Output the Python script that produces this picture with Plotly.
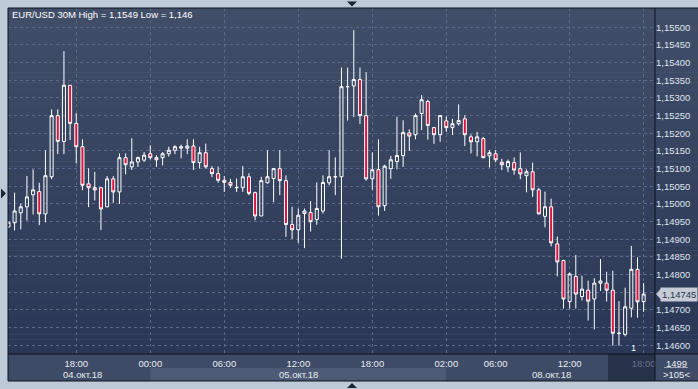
import plotly.graph_objects as go

# ---------------- data ----------------
bar_index = list(range(-11, 93))  # 30M bars; 0 = 04.окт 18:00

open_ = [1.14935,1.14947,1.14975,1.14992,1.15026,1.15035,1.14972,1.15077,1.15250,1.15177,
         1.15336,1.15228,1.15162,1.15057,1.15046,1.15046,1.14992,1.15071,1.15034,1.15131,
         1.15105,1.15119,1.15124,1.15142,1.15131,1.15131,1.15142,1.15152,1.15158,1.15158,
         1.15164,1.15117,1.15145,1.15100,1.15086,1.15067,1.15061,1.15047,1.15046,1.15077,
         1.15032,1.14966,1.15060,1.15072,1.15100,1.15066,1.14942,1.14927,1.14973,1.14976,
         1.14956,1.14980,1.15060,1.15077,1.15077,1.15332,1.15334,1.15352,1.15250,1.15071,
         1.15097,1.14995,1.15100,1.15120,1.15137,1.15201,1.15196,1.15256,1.15290,1.15216,
         1.15196,1.15235,1.15216,1.15227,1.15241,1.15190,1.15176,1.15185,1.15136,1.15142,
         1.15118,1.15105,1.15117,1.15100,1.15080,1.15091,1.15040,1.14965,1.14992,1.14887,
         1.14840,1.14724,1.14795,1.14738,1.14756,1.14731,1.14776,1.14776,1.14756,1.14634,
         1.14631,1.14705,1.14815,1.14724]
high = [1.14951,1.15032,1.15001,1.15079,1.15098,1.15060,1.15152,1.15268,1.15268,1.15433,
        1.15336,1.15257,1.15183,1.15101,1.15091,1.15048,1.15079,1.15079,1.15143,1.15143,
        1.15186,1.15134,1.15147,1.15166,1.15138,1.15147,1.15162,1.15166,1.15168,1.15183,
        1.15183,1.15162,1.15171,1.15107,1.15106,1.15079,1.15071,1.15072,1.15107,1.15087,
        1.15035,1.15077,1.15152,1.15102,1.15152,1.15081,1.14992,1.14987,1.14987,1.15008,
        1.15061,1.15081,1.15152,1.15132,1.15386,1.15386,1.15492,1.15386,1.15373,1.15146,
        1.15183,1.15111,1.15136,1.15247,1.15237,1.15211,1.15256,1.15308,1.15295,1.15218,
        1.15250,1.15248,1.15241,1.15282,1.15251,1.15197,1.15204,1.15190,1.15152,1.15152,
        1.15128,1.15126,1.15132,1.15146,1.15098,1.15117,1.15046,1.15035,1.15015,1.14908,
        1.14842,1.14806,1.14856,1.14797,1.14783,1.14790,1.14844,1.14808,1.14811,1.14725,
        1.14763,1.14881,1.14849,1.14776]
low = [1.14932,1.14925,1.14928,1.14953,1.14970,1.14940,1.14948,1.15070,1.15141,1.15141,
       1.15181,1.15115,1.15039,1.14991,1.15010,1.14926,1.14991,1.15003,1.15000,1.15084,
       1.15096,1.15105,1.15119,1.15126,1.15105,1.15109,1.15134,1.15141,1.15129,1.15141,
       1.15096,1.15100,1.15100,1.15076,1.15060,1.15034,1.15045,1.15034,1.15034,1.15025,
       1.14954,1.14966,1.15058,1.15005,1.15025,1.14907,1.14901,1.14890,1.14875,1.14922,
       1.14941,1.14973,1.15053,1.15025,1.14845,1.15236,1.15246,1.15226,1.15066,1.15040,
       1.14967,1.14980,1.15071,1.15098,1.15105,1.15150,1.15183,1.15209,1.15182,1.15170,
       1.15176,1.15204,1.15195,1.15222,1.15164,1.15143,1.15135,1.15129,1.15103,1.15118,
       1.15096,1.15090,1.15083,1.15070,1.15033,1.15020,1.14970,1.14934,1.14880,1.14795,
       1.14704,1.14704,1.14704,1.14727,1.14670,1.14645,1.14754,1.14724,1.14599,1.14599,
       1.14625,1.14679,1.14678,1.14695]
close = [1.14948,1.14980,1.14992,1.15020,1.15040,1.14972,1.15080,1.15250,1.15177,1.15336,
         1.15228,1.15162,1.15053,1.15046,1.15040,1.14986,1.15071,1.15034,1.15131,1.15111,
         1.15119,1.15131,1.15138,1.15131,1.15125,1.15142,1.15152,1.15162,1.15162,1.15164,
         1.15117,1.15145,1.15105,1.15086,1.15067,1.15061,1.15053,1.15046,1.15077,1.15030,
         1.14966,1.15066,1.15077,1.15100,1.15066,1.14942,1.14927,1.14968,1.14980,1.14950,
         1.14987,1.15061,1.15077,1.15077,1.15332,1.15332,1.15352,1.15250,1.15071,1.15097,
         1.14992,1.15107,1.15125,1.15137,1.15202,1.15192,1.15250,1.15295,1.15222,1.15196,
         1.15250,1.15216,1.15227,1.15236,1.15196,1.15176,1.15190,1.15131,1.15145,1.15125,
         1.15111,1.15120,1.15096,1.15085,1.15091,1.15040,1.14972,1.14992,1.14890,1.14836,
         1.14731,1.14802,1.14745,1.14759,1.14725,1.14776,1.14782,1.14756,1.14634,1.14634,
         1.14709,1.14815,1.14723,1.14745]

time_tick_idx = [0, 12, 24, 36, 48, 60, 68, 80, 92]
time_tick_text = ["18:00", "00:00", "06:00", "12:00", "18:00", "02:00", "06:00", "12:00", "18:00"]
day_label_idx = [1, 36, 77]
day_labels = ["04.окт.18", "05.окт.18", "08.окт.18"]
day_start_idx = [12, 60]          # boundaries of the 05.окт band
price_ticks = [1.14600, 1.14650, 1.14700, 1.14750, 1.14800, 1.14850, 1.14900, 1.14950,
               1.15000, 1.15050, 1.15100, 1.15150, 1.15200, 1.15250, 1.15300, 1.15350,
               1.15400, 1.15450, 1.15500]
price_tick_text = ["1,14600", "1,14650", "1,14700", "", "1,14800", "1,14850", "1,14900",
                   "1,14950", "1,15000", "1,15050", "1,15100", "1,15150", "1,15200",
                   "1,15250", "1,15300", "1,15350", "1,15400", "1,15450", "1,15500"]
title_text = "EUR/USD 30M High = 1,1549 Low = 1,146"
last_price_text = "1,14745"
bars_text = "1499"
zoom_text = "&gt;105&lt;"

# ---------------- geometry helpers (pixels -> paper) ----------------
W, H = 698, 389
L, R, T, B = 8, 655, 8, 354


def px(x):
    return (x - L) / (R - L)


def py(y):
    return (B - y) / (B - T)


x_range = [-11.07, 93.84]
y_range = [1.145754, 1.155546]


def ix(i):  # bar index -> pixel
    return L + (i - x_range[0]) / (x_range[1] - x_range[0]) * (R - L)


FONT = "Liberation Sans, Arial, sans-serif"

fig = go.Figure()
fig.add_trace(go.Candlestick(
    x=bar_index, open=open_, high=high, low=low, close=close,
    increasing=dict(line=dict(color="#ffffff", width=1), fillcolor="rgba(0,0,0,0)"),
    decreasing=dict(line=dict(color="#ffffff", width=1), fillcolor="#dc143c"),
    whiskerwidth=0, showlegend=False, hoverinfo="skip",
))

shapes = []
# gradient background for plot + price column
top_c = (65, 78, 104)
bot_c = (42, 55, 86)
N = 70
for k in range(N):
    t = k / (N - 1)
    c = tuple(round(top_c[j] + (bot_c[j] - top_c[j]) * t) for j in range(3))
    y0 = T + (B - T) * k / N
    y1 = T + (B - T) * (k + 1) / N + 0.6
    shapes.append(dict(type="rect", xref="paper", yref="paper", x0=px(L), x1=px(W),
                       y0=py(y1), y1=py(y0), line=dict(width=0),
                       fillcolor="rgb(%d,%d,%d)" % c, layer="below"))
# time-axis rows
shapes.append(dict(type="rect", xref="paper", yref="paper", x0=px(L), x1=px(W), y0=py(381), y1=py(B),
                   line=dict(width=0), fillcolor="#3e4b67", layer="below"))
# lighter day band (05.окт)
shapes.append(dict(type="rect", xref="paper", yref="paper", x0=px(ix(day_start_idx[0])),
                   x1=px(ix(day_start_idx[1]) - 0.5), y0=py(381), y1=py(368),
                   line=dict(width=0), fillcolor="#4d5a75", layer="below"))
# dark future area
shapes.append(dict(type="rect", xref="paper", yref="paper", x0=px(608), x1=px(R), y0=py(381), y1=py(B),
                   line=dict(width=0), fillcolor="#27324b", layer="below"))
# price column bottom box
shapes.append(dict(type="rect", xref="paper", yref="paper", x0=px(R), x1=px(W), y0=py(381), y1=py(B),
                   line=dict(width=0), fillcolor="#3f4c68", layer="below"))
# frame lines
line_c = "#0d121c"
for (x0, y0, x1, y1) in [(L, T, L, 381), (L, T, W, T), (R, T, R, 381), (L, B, W, B), (L, 381, W, 381)]:
    shapes.append(dict(type="line", xref="paper", yref="paper", x0=px(x0), y0=py(y0), x1=px(x1), y1=py(y1),
                       line=dict(color=line_c, width=1), layer="above"))
# separator under bar count
shapes.append(dict(type="line", xref="paper", yref="paper", x0=px(664), x1=px(688), y0=py(367.5), y1=py(367.5),
                   line=dict(color="#9aa4b6", width=1)))


def tri(pts, color):
    path = "M " + " L ".join("%f,%f" % (px(a), py(b)) for a, b in pts) + " Z"
    return dict(type="path", xref="paper", yref="paper", path=path, fillcolor=color,
                line=dict(width=0), layer="above")


shapes.append(tri([(347, 1.5), (357, 1.5), (352, 6.5)], "#1b2435"))
shapes.append(tri([(347, 388), (357, 388), (352, 383)], "#1b2435"))
shapes.append(tri([(1, 188.5), (6, 193.5), (1, 198.5)], "#1b2435"))
# current price tag arrow
dy = (y_range[1] - y_range[0]) / (B - T) * 5.5
shapes.append(dict(type="path", xref="paper", yref="y",
                   path="M %f,%f L %f,%f L %f,%f Z" % (px(656), close[-1], px(661), close[-1] + dy,
                                                       px(661), close[-1] - dy),
                   fillcolor="#c5ccd7", line=dict(width=0), layer="above"))

annotations = []
annotations.append(dict(text=title_text, xref="paper", yref="paper", x=px(10), y=py(15),
                        xanchor="left", yanchor="middle", showarrow=False,
                        font=dict(family=FONT, size=9.5, color="#ffffff")))
for i, lab in zip(day_label_idx, day_labels):
    annotations.append(dict(text=lab, xref="x", yref="paper", x=i, y=py(374.5), xanchor="center",
                            yanchor="middle", showarrow=False,
                            font=dict(family=FONT, size=9.5, color="#e8ecf2")))
annotations.append(dict(text=last_price_text, xref="paper", yref="y", x=px(660), y=close[-1],
                        xanchor="left", yanchor="middle", showarrow=False, bgcolor="#c5ccd7",
                        borderpad=1, width=34, align="left",
                        font=dict(family=FONT, size=9.5, color="#2a3448")))
annotations.append(dict(text=bars_text, xref="paper", yref="paper", x=px(676), y=py(355.5),
                        xanchor="center", yanchor="top", showarrow=False,
                        font=dict(family=FONT, size=9.5, color="#e8ecf2")))
annotations.append(dict(text=zoom_text, xref="paper", yref="paper", x=px(676), y=py(366.5),
                        xanchor="center", yanchor="top", showarrow=False,
                        font=dict(family=FONT, size=9.5, color="#e8ecf2")))
annotations.append(dict(text="1", xref="paper", yref="paper", x=px(633), y=py(348),
                        xanchor="center", yanchor="middle", showarrow=False,
                        font=dict(family=FONT, size=9, color="#ffffff")))

tick_text_styled = [t if i != time_tick_idx[-1] else '<span style="color:#66718a">%s</span>' % t
                    for i, t in zip(time_tick_idx, time_tick_text)]

fig.update_layout(
    width=W, height=H,
    margin=dict(l=L, r=W - R, t=T, b=H - B),
    paper_bgcolor="#bfcad8",
    plot_bgcolor="rgba(0,0,0,0)",
    separators=", ",
    shapes=shapes,
    annotations=annotations,
    showlegend=False,
    xaxis=dict(range=x_range, rangeslider=dict(visible=False), tickmode="array",
               tickvals=time_tick_idx, ticktext=tick_text_styled, showgrid=True,
               gridcolor="#5a6989", griddash="3px,3px", gridwidth=1, zeroline=False,
               showline=False, ticks="", ticklabelstandoff=2,
               tickfont=dict(family=FONT, size=9.5, color="#e8ecf2")),
    yaxis=dict(range=y_range, side="right", tickmode="array", tickvals=price_ticks,
               ticktext=price_tick_text, showgrid=True, gridcolor="#5a6989",
               griddash="3px,3px", gridwidth=1, zeroline=False, showline=False, ticks="",
               tickfont=dict(family=FONT, size=9.5, color="#dfe5ee")),
)

fig.write_html("out.html")
